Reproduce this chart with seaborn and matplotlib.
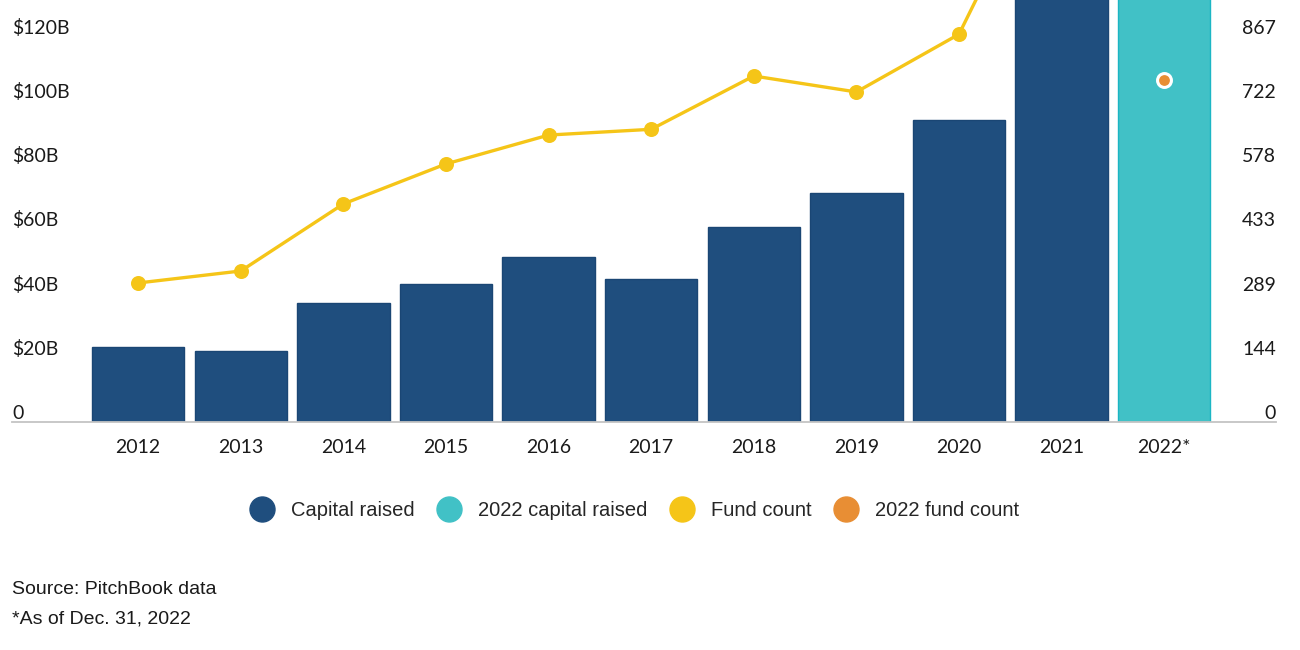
import numpy as np
import pandas as pd
import matplotlib
matplotlib.use('Agg')
import matplotlib.pyplot as plt
import seaborn as sns
from matplotlib.lines import Line2D

# Values (2021 and 2022 bars, and the 2021 count, run off the top)
years = ['2012', '2013', '2014', '2015', '2016', '2017', '2018', '2019', '2020', '2021', '2022*']
capital_b = [23.4, 22.2, 37.2, 43.1, 51.3, 44.7, 60.7, 71.5, 94.0, 156.0, 162.6]
fund_count = [313, 340, 491, 581, 646, 659, 779, 743, 873, 1340, 769]

left_ticks = [0, 20, 40, 60, 80, 100, 120]
left_labels = ['0', '$20B', '$40B', '$60B', '$80B', '$100B', '$120B']
right_labels = ['0', '144', '289', '433', '578', '722', '867']

legend_labels = ['Capital raised', '2022 capital raised', 'Fund count', '2022 fund count']

NAVY = '#1f4e7e'
TEAL = '#41c1c6'
YELLOW = '#f5c518'
ORANGE = '#e88e34'
TEXT = '#1a1a1a'

sns.set_theme(style='white')
plt.rcParams['font.family'] = ['Lato', 'DejaVu Sans']

df = pd.DataFrame({'year': years, 'capital': capital_b, 'count': fund_count})
df['kind'] = np.where(df['year'] == '2022*', 'current', 'past')

fig = plt.figure(figsize=(13, 6.5), dpi=100)
ax = fig.add_axes([12 / 1300, 1 - 422 / 650, 1264 / 1300, 422 / 650])

sns.barplot(data=df, x='year', y='capital', hue='kind', order=years,
            palette={'past': NAVY, 'current': TEAL}, dodge=False, width=0.9,
            saturation=1, legend=False, ax=ax)
# thin outline on the bars
for p in ax.patches:
    fc = p.get_facecolor()
    if abs(fc[0] - 0.255) < 0.05:
        p.set_edgecolor('#1bb6c4')
    else:
        p.set_edgecolor('#1a4674')
    p.set_linewidth(1.0)

ax2 = ax.twinx()
past = df[df['kind'] == 'past']
cur = df[df['kind'] == 'current']
sns.pointplot(data=past, x='year', y='count', order=years, color=YELLOW,
              markers='o', markersize=9, linewidth=2.4, errorbar=None, ax=ax2)
sns.pointplot(data=cur, x='year', y='count', order=years, color=ORANGE,
              markers='o', markersize=10, linestyle='none', errorbar=None,
              markeredgecolor='white', markeredgewidth=2.2, ax=ax2)

ymax = 131.5
ax.set_ylim(0, ymax)
ax2.set_ylim(0, ymax / 120 * 867)
ax.set_xlim(-1.23, 11.09)

ax.set_xlabel('')
ax.set_ylabel('')
ax2.set_xlabel('')
ax2.set_ylabel('')

for s in ax.spines.values():
    s.set_visible(False)
for s in ax2.spines.values():
    s.set_visible(False)
ax.spines['bottom'].set_visible(True)
ax.spines['bottom'].set_color('#c4c4c4')
ax.spines['bottom'].set_linewidth(1.3)

ax.set_yticks(left_ticks, left_labels)
ax2.set_yticks(np.linspace(0, 867, 7), right_labels)
ax.tick_params(axis='x', length=0, pad=12, labelsize=14, labelcolor=TEXT)
ax.tick_params(axis='y', length=0, pad=0, labelsize=14, labelcolor=TEXT)
ax2.tick_params(axis='y', length=0, pad=0, labelsize=14, labelcolor=TEXT)
plt.setp(ax.get_yticklabels(), ha='left', va='bottom')
plt.setp(ax2.get_yticklabels(), ha='right', va='bottom')
ax.grid(False)
ax2.grid(False)

handles = [Line2D([], [], linestyle='none', marker='o', markersize=18, color=c)
           for c in [NAVY, TEAL, YELLOW, ORANGE]]
fig.legend(handles, legend_labels, loc='center', bbox_to_anchor=(0.489, 0.215),
           ncol=4, frameon=False, handlelength=1.0, handletextpad=0.95,
           columnspacing=1.2,
           prop={'family': ['Liberation Sans', 'DejaVu Sans'], 'size': 14.5})

fig.text(12 / 1300, 1 - 590 / 650, 'Source: PitchBook data', color=TEXT,
         fontsize=14, va='center', family=['Liberation Sans', 'DejaVu Sans'])
fig.text(12 / 1300, 1 - 619 / 650, '*As of Dec. 31, 2022', color=TEXT,
         fontsize=14, va='center', family=['Liberation Sans', 'DejaVu Sans'])

fig.savefig('out.png', dpi=100)
